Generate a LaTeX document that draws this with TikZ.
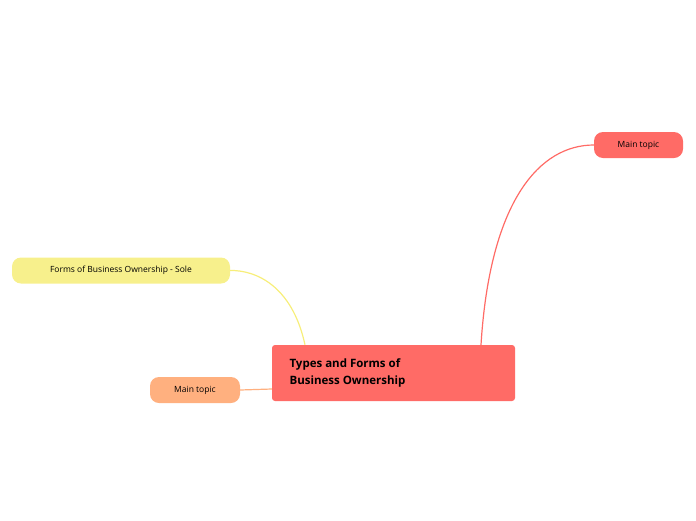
\documentclass[tikz,border=0pt]{standalone}
\usepackage{fontspec}
\setmainfont{Open Sans}
\definecolor{cred}{HTML}{FF6B66}
\definecolor{cyel}{HTML}{F7F08C}
\definecolor{cora}{HTML}{FFB07F}
\definecolor{lyel}{HTML}{F7EE7A}
\tikzset{topic/.style={rounded corners=9pt,minimum height=26pt,font=\fontsize{8.5pt}{10pt}\selectfont,inner xsep=0pt},
conn/.style={line width=1.2pt}}
\begin{document}
\begin{tikzpicture}[x=1pt,y=1pt]
\useasboundingbox (0,0) rectangle (696,-520);
\node[fill=cred,rounded corners=3pt,minimum width=243pt,minimum height=56pt,inner sep=0pt] (c) at (393.5,-373) {};
\node[anchor=west,align=left,font=\bfseries\fontsize{11.5pt}{17pt}\selectfont] (ct) at (286,-373) {Types and Forms of\\Business Ownership};
\node[topic,fill=cred,minimum width=89pt] (r) at (638.5,-145) {Main topic};
\node[topic,fill=cyel,minimum width=218pt] (y) at (121,-270.5) {Forms of Business Ownership - Sole};
\node[topic,fill=cora,minimum width=90pt] (o) at (195,-390) {Main topic};
\draw[conn,cred] (c.north -| 481,0) .. controls (490,-200) and (540,-145) .. (r.west);
\draw[conn,lyel] (c.north -| 305,0) .. controls (292,-285) and (255,-270) .. (y.east);
\draw[conn,cora] (c.west |- 0,-389) -- (o.east);
\end{tikzpicture}
\end{document}
